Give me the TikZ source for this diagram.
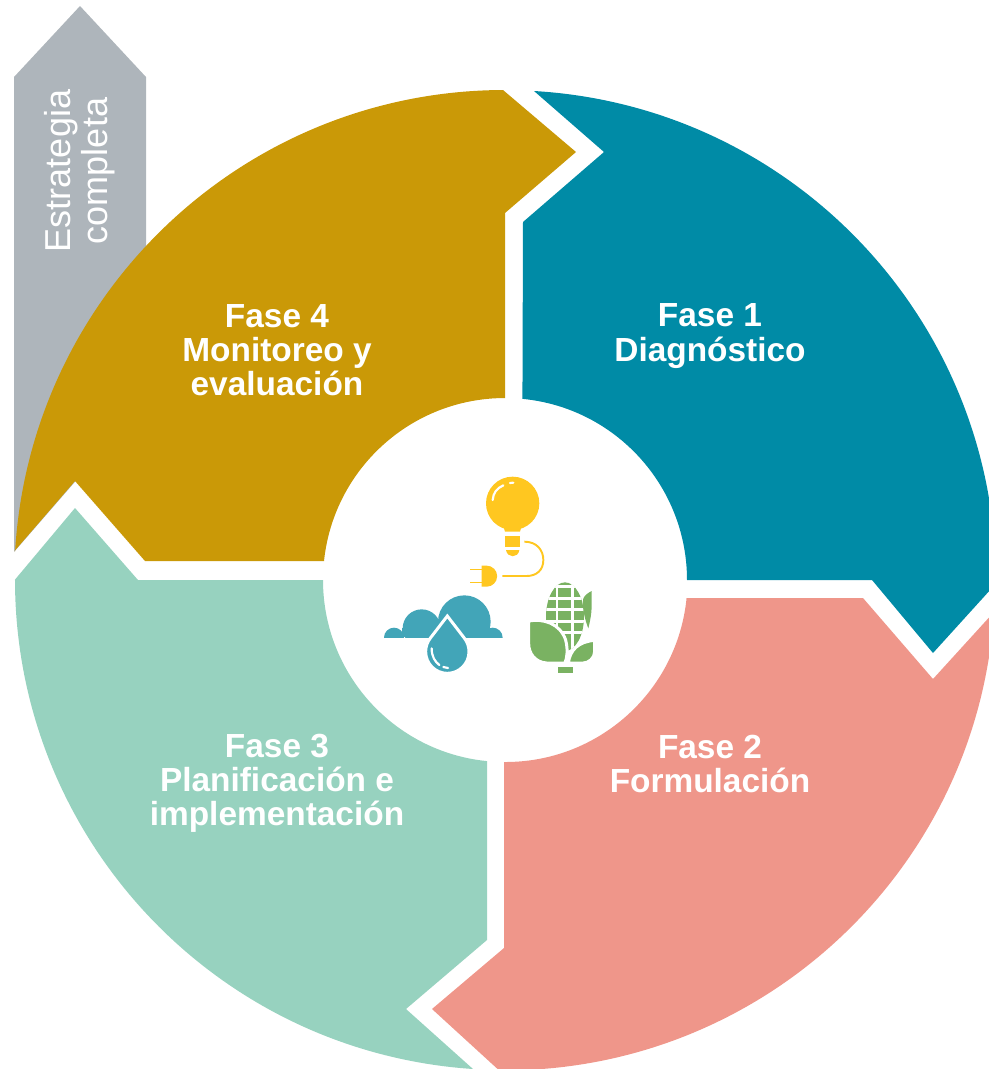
\documentclass[tikz,border=0pt]{standalone}
\usepackage{fontspec}
\setmainfont{Liberation Sans}
\usepackage{xcolor}
\definecolor{fase1}{RGB}{0,139,166}
\definecolor{fase2}{RGB}{239,150,138}
\definecolor{fase3}{RGB}{151,210,191}
\definecolor{fase4}{RGB}{202,153,7}
\definecolor{estrategia}{RGB}{174,181,187}
\definecolor{bulb}{RGB}{255,199,32}
\definecolor{water}{RGB}{66,165,184}
\definecolor{corn}{RGB}{122,178,98}

\begin{document}
\begin{tikzpicture}[
    x=0.01cm, y=-0.01cm,
    fase/.style={text=white, align=center, inner sep=0pt, font=\fontsize{9.5}{9.7}\selectfont\bfseries},
    icon/.style={shift={(370,460)}, scale=1/3},
    cut/.style={draw=white, line width=0.85pt},
    shine/.style={draw=white, line width=0.62pt, line cap=round}
]
    % Page
    \useasboundingbox (0,0) rectangle (989,1069);
    \clip (0,0) rectangle (989,1069);

    % Grey arrow behind the ring
    \fill[estrategia] (14,77) -- (80,6) -- (146,77) -- (146,400) -- (14,552) -- cycle;
    \node[text=white, rotate=90, align=center, inner sep=0pt,
        font=\fontsize{10.25}{9.1}\selectfont] (estrategia) at (80,171) {Estrategia\\completa};

    % Fase 1
    \fill[fase1] (534,91) arc[start angle=-86.66, end angle=0.35, radius=490.5]
        -- (933,653) -- (872,580) -- (687,580)
        arc[start angle=0, end angle=-84.5, radius=182]
        -- (523,222) -- (604,152) -- cycle;

    % Fase 2
    \fill[fase2] (686,598) -- (863,598) -- (933,679) -- (994,612)
        arc[start angle=3.75, end angle=90.64, radius=490.5]
        -- (432,1009) -- (504,948) -- (504,762)
        arc[start angle=90.47, end angle=5.7, radius=182] -- cycle;

    % Fase 3
    \fill[fase3] (487,761) -- (487,940) -- (406,1009) -- (473,1069)
        arc[start angle=93.8, end angle=180, radius=490.5]
        -- (75,508) -- (138,580) -- (323,580)
        arc[start angle=180, end angle=95.8, radius=182] -- cycle;

    % Fase 4
    \fill[fase4] (14.5,551) -- (75,481) -- (145,561) -- (324,561)
        arc[start angle=186, end angle=270, radius=182]
        -- (505,213) -- (576,152) -- (503,90)
        arc[start angle=269.8, end angle=183.4, radius=490.5] -- cycle;

    % Labels
    \node[fase] (fase1txt) at (710,336) {Fase 1\\Diagnóstico};
    \node[fase] (fase2txt) at (710,764) {Fase 2\\Formulación};
    \node[fase] (fase3txt) at (277,783) {Fase 3\\Planificación e\\implementación};
    \node[fase] (fase4txt) at (277,350) {Fase 4\\Monitoreo y\\evaluación};

    % Bulb and plug
    \begin{scope}[icon]
        \fill[bulb] (428,130) circle[radius=80];
        \fill[bulb] (368,183) .. controls (385,195) and (405,195) .. (405,215) -- (450,215)
            .. controls (450,195) and (470,195) .. (488,183) -- cycle;
        \fill[bulb] (405,227) rectangle (450,262);
        \fill[bulb] (408,270) .. controls (412,295) and (445,295) .. (448,270) -- cycle;
        \draw[shine] (368,120) .. controls (370,98) and (380,85) .. (400,76);
        \draw[shine] (420,69) -- (430,68);
        \draw[bulb, line width=0.55pt] (463,245) .. controls (500,245) and (520,270) .. (520,300)
            .. controls (520,330) and (500,348) .. (470,348) -- (397,348);
        \fill[bulb] (335,317) -- (350,317) arc[start angle=-90, end angle=90, radius=31.5]
            -- (335,380) -- cycle;
        \draw[bulb, line width=0.3pt] (300,328) -- (335,328) (300,367) -- (335,367);
    \end{scope}

    % Cloud and drop
    \begin{scope}[icon]
        \begin{scope}
            \clip (40,395) rectangle (400,532);
            \fill[water] (283,485) circle[radius=79];
            \fill[water] (155,505) circle[radius=57];
            \fill[water] (72,533) circle[radius=30];
            \fill[water] (368,533) circle[radius=30];
            \fill[water] (95,505) rectangle (365,532);
        \end{scope}
        \filldraw[cut, fill=water] (232,468) -- (182,533)
            .. controls (172,545) and (167,560) .. (167,575)
            arc[start angle=180, end angle=0, radius=65]
            .. controls (297,560) and (292,545) .. (282,533) -- cycle;
        \draw[shine] (185,565) .. controls (185,590) and (195,605) .. (208,615);
        \draw[shine] (220,621) -- (234,624);
    \end{scope}

    % Corn
    \begin{scope}[icon]
        \begin{scope}
            \clip (585,470) ellipse[x radius=57, y radius=103];
            \fill[corn] (520,360) rectangle (650,580);
            \foreach \rowy in {379,414,449,483,516}
                \draw[white, line width=0.85pt] (520,\rowy) -- (650,\rowy);
            \foreach \colx in {561,607}
                \draw[white, line width=0.85pt] (\colx,360) -- (\colx,580);
        \end{scope}
        \fill[corn] (640,415) .. controls (645,405) and (655,398) .. (665,393) -- (665,440)
            .. controls (665,460) and (660,485) .. (655,505)
            .. controls (645,480) and (635,440) .. (640,415) -- cycle;
        \filldraw[cut, fill=corn] (476,483) .. controls (520,475) and (570,490) .. (587,540)
            .. controls (594,570) and (592,590) .. (585,609) -- (530,609)
            .. controls (495,607) and (476,580) .. (476,550) -- cycle;
        \filldraw[cut, fill=corn] (595,609) .. controls (600,570) and (625,545) .. (674,541)
            -- (674,575) .. controls (674,595) and (655,609) .. (640,609) -- cycle;
        \fill[corn] (565,622) rectangle (610,640);
    \end{scope}
\end{tikzpicture}
\end{document}
